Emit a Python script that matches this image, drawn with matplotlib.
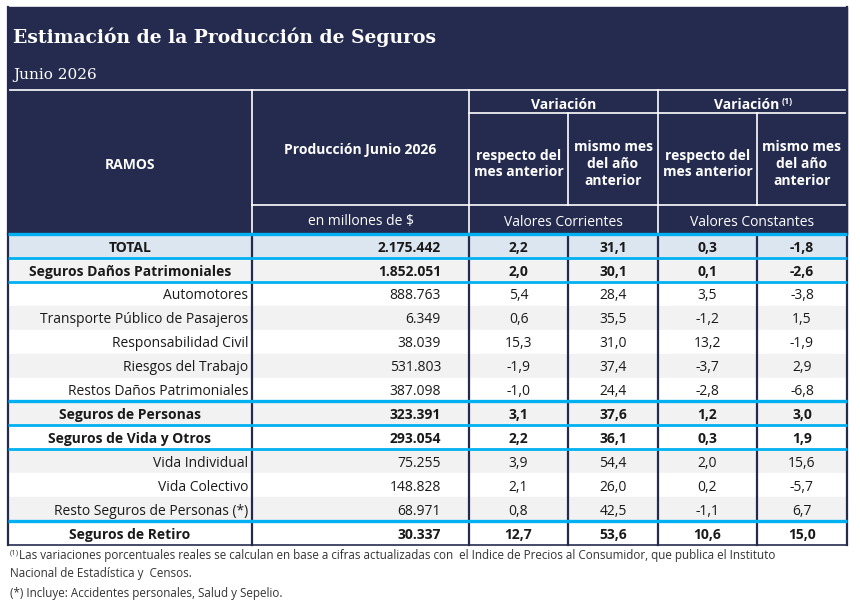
import matplotlib
matplotlib.use("Agg")
import matplotlib.pyplot as plt
from matplotlib.patches import Rectangle

# ---- datos ----
ramos = ["TOTAL", "Seguros Daños Patrimoniales", "Automotores",
         "Transporte Público de Pasajeros", "Responsabilidad Civil",
         "Riesgos del Trabajo", "Restos Daños Patrimoniales",
         "Seguros de Personas", "Seguros de Vida y Otros", "Vida Individual",
         "Vida Colectivo", "Resto Seguros de Personas (*)", "Seguros de Retiro"]
produccion = [2175442, 1852051, 888763, 6349, 38039, 531803, 387098,
              323391, 293054, 75255, 148828, 68971, 30337]
var_mes_corr = [2.2, 2.0, 5.4, 0.6, 15.3, -1.9, -1.0, 3.1, 2.2, 3.9, 2.1, 0.8, 12.7]
var_anio_corr = [31.1, 30.1, 28.4, 35.5, 31.0, 37.4, 24.4, 37.6, 36.1, 54.4, 26.0, 42.5, 53.6]
var_mes_const = [0.3, 0.1, 3.5, -1.2, 13.2, -3.7, -2.8, 1.2, 0.3, 2.0, 0.2, -1.1, 10.6]
var_anio_const = [-1.8, -2.6, -3.8, 1.5, -1.9, 2.9, -6.8, 3.0, 1.9, 15.6, -5.7, 6.7, 15.0]
filas_negrita = [0, 1, 7, 8, 12]

titulo = "Estimación de la Producción de Seguros"
subtitulo = "Junio 2026"
nota1 = ("Las variaciones porcentuales reales se calculan en base a cifras actualizadas con  el Indice de Precios al Consumidor, que publica el Instituto",
         "Nacional de Estadística y  Censos.")
nota2 = "(*) Incluye: Accidentes personales, Salud y Sepelio."

NAVY = "#252B4E"
CYAN = "#00B0F0"
GRIS = "#F2F2F2"
CELESTE = "#DCE6F0"
TXT = "#1A1A1A"
SANS = "Open Sans"
SERIF = "DejaVu Serif"
DY = 2  # ajuste vertical del texto


def fmt_miles(v):
    return f"{v:,}".replace(",", ".")


def fmt_pct(v):
    return f"{v:.1f}".replace(".", ",")


fig = plt.figure(figsize=(8.6, 6.04), dpi=100)
ax = fig.add_axes([0, 0, 1, 1])
ax.set_xlim(0, 860)
ax.set_ylim(604, 0)
ax.axis("off")

# geometria (pixeles)
L, R = 8, 847
cols = [L, 252, 469, 568, 658, 757, R]
y_top, y_var, y_sub, y_unit, y_data = 7, 90, 113, 205, 234
n = len(ramos)
h = (545 - y_data) / n

# cabecera
ax.add_patch(Rectangle((L, y_top), R - L, y_data - y_top, color=NAVY, zorder=0))
ax.text(13, 37, titulo, family=SERIF, weight="bold", size=13.5, color="white", va="center")
ax.text(13, 75, subtitulo, family=SERIF, size=11, color="white", va="center")
lw = dict(color="white", lw=1.2)
ax.plot([L, R], [y_var, y_var], **lw)
ax.plot([cols[2], R], [y_sub, y_sub], **lw)
ax.plot([cols[1], R], [y_unit, y_unit], **lw)
for x in cols[1:3] + [cols[4]]:
    ax.plot([x, x], [y_var, y_data], **lw)
for x in [cols[3], cols[5]]:
    ax.plot([x, x], [y_sub, y_unit], **lw)

hd = dict(family=SANS, weight="bold", size=10, color="white", ha="center", va="center")
ax.text((cols[0] + cols[1]) / 2, 163 + DY, "RAMOS", **hd)
ax.text((cols[1] + cols[2]) / 2, 148 + DY, "Producción Junio 2026", **hd)
ax.text((cols[2] + cols[4]) / 2, 103 + DY, "Variación", **hd)
ax.text(779, 103 + DY, "Variación", **{**hd, "ha": "right"})
ax.text(782, 99 + DY, "(1)", family=SANS, weight="bold", size=6.5,
        color="white", ha="left", va="center")
for i, etiqueta in enumerate(["respecto del\nmes anterior", "mismo mes\ndel año\nanterior"] * 2):
    ax.text((cols[2 + i] + cols[3 + i]) / 2, 162 + DY, etiqueta, linespacing=1.25, **hd)
un = dict(family=SANS, size=10, color="white", ha="center", va="center")
ax.text((cols[1] + cols[2]) / 2, 220 + DY, "en millones de $", **un)
ax.text((cols[2] + cols[4]) / 2, 220 + DY, "Valores Corrientes", **un)
ax.text((cols[4] + cols[6]) / 2, 220 + DY, "Valores Constantes", **un)

# filas de datos
columnas = [var_mes_corr, var_anio_corr, var_mes_const, var_anio_const]
for i in range(n):
    y0 = y_data + i * h
    yc = y0 + h / 2 + DY
    if i == 0:
        fondo = CELESTE
    elif i % 2 == 1:
        fondo = GRIS
    else:
        fondo = "white"
    ax.add_patch(Rectangle((L, y0), R - L, h, color=fondo, zorder=0))
    bold = i in filas_negrita
    kw = dict(family=SANS, size=10, color=TXT, va="center",
              weight="bold" if bold else "normal")
    if bold:
        ax.text((cols[0] + cols[1]) / 2, yc, ramos[i], ha="center", **kw)
    else:
        ax.text(cols[1] - 4, yc, ramos[i], ha="right", **kw)
    ax.text(cols[2] - 28, yc, fmt_miles(produccion[i]), ha="right", **kw)
    for j, serie in enumerate(columnas):
        ax.text((cols[2 + j] + cols[3 + j]) / 2, yc, fmt_pct(serie[i]), ha="center", **kw)

# lineas verticales y bordes
for x in cols:
    ax.plot([x, x], [y_data, 545], color=NAVY, lw=1.6, zorder=3)
ax.plot([L, L], [y_top, y_data], color=NAVY, lw=1.6, zorder=3)
ax.plot([R, R], [y_top, y_data], color=NAVY, lw=1.6, zorder=3)
ax.plot([L, R], [545, 545], color=NAVY, lw=1.2, zorder=3)

# separadores celestes
for k, grosor in [(0, 2.4), (1, 2.0), (2, 2.0), (7, 2.4), (8, 2.0), (9, 2.0), (12, 2.4)]:
    yy = y_data + k * h
    ax.plot([L, R], [yy, yy], color=CYAN, lw=grosor, zorder=4, solid_capstyle="butt")

# notas
nt = dict(family=SANS, size=8.4, color="#333333", va="center")
ax.text(10, 551 + DY, "(1)", family=SANS, size=5.5, color="#333333", va="center")
ax.text(19, 553 + DY, nota1[0], **nt)
ax.text(10, 572 + DY, nota1[1], **nt)
ax.text(10, 592 + DY, nota2, **nt)

fig.savefig("out.png", dpi=100)
